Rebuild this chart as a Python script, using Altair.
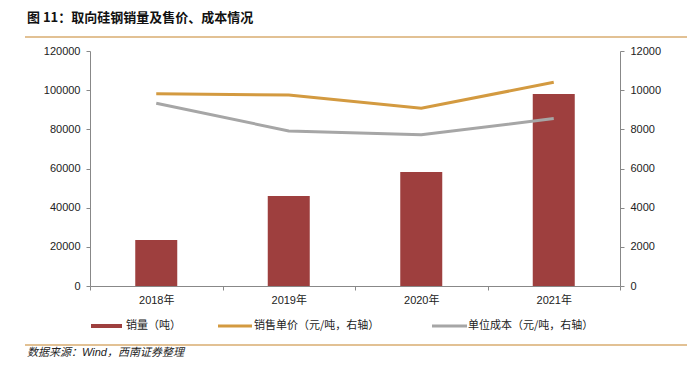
import altair as alt
import pandas as pd

years = ["2018年", "2019年", "2020年", "2021年"]
volume = [23500, 46000, 58200, 98000]
price = [9820, 9750, 9080, 10400]
cost = [9330, 7920, 7720, 8550]

title_text = "图 11：取向硅钢销量及售价、成本情况"
source_text = "数据来源：Wind，西南证券整理"
legend_labels = ["销量（吨）", "销售单价（元/吨，右轴）", "单位成本（元/吨，右轴）"]

df = pd.DataFrame({"year": years, "volume": volume, "price": price, "cost": cost})

BAR = "#9E3F3E"
GOLD = "#D39A40"
GREY = "#A6A6A6"
LINE = "#D9AD70"
FONT = "Liberation Sans, Noto Sans CJK SC"
CJK = "Noto Sans CJK SC"

x = alt.X("year:N", sort=years, title=None,
          scale=alt.Scale(paddingInner=0, paddingOuter=0),
          axis=alt.Axis(tickBand="extent", labelAngle=0, labelPadding=4))

bars = alt.Chart(df).mark_bar(width=42, color=BAR).encode(
    x=x,
    y=alt.Y("volume:Q", title=None,
            scale=alt.Scale(domain=[0, 120000], nice=False),
            axis=alt.Axis(values=list(range(0, 120001, 20000)), format="d", orient="left"))
)

base_line = alt.Chart(df).transform_fold(["price", "cost"], as_=["k", "v"])
lines = base_line.mark_line(strokeWidth=3).encode(
    x=x,
    y=alt.Y("v:Q", title=None,
            scale=alt.Scale(domain=[0, 12000], nice=False),
            axis=alt.Axis(values=list(range(0, 12001, 2000)), format="d", orient="right")),
    color=alt.Color("k:N", scale=alt.Scale(domain=["price", "cost"], range=[GOLD, GREY]), legend=None),
)

one = pd.DataFrame({"a": [0]})

# view origin at page (90, 51)
title = alt.Chart(pd.DataFrame({"t": [title_text]})).mark_text(
    align="left", baseline="middle", fontSize=13, fontWeight="bold", font=CJK, color="#111"
).encode(x=alt.value(-63), y=alt.value(-33), text="t:N")

top_rule = alt.Chart(one).mark_rule(color=LINE, strokeWidth=1.5).encode(
    x=alt.value(-65), x2=alt.value(600), y=alt.value(-14))
bot_rule = alt.Chart(one).mark_rule(color=LINE, strokeWidth=1.5).encode(
    x=alt.value(-65), x2=alt.value(602), y=alt.value(294))

source = alt.Chart(pd.DataFrame({"t": [source_text]})).mark_text(
    align="left", baseline="middle", fontSize=11, fontStyle="italic", font=FONT, color="#222"
).encode(x=alt.value(-63), y=alt.value(302), text="t:N")

leg_y = 275
sw1 = alt.Chart(one).mark_rule(color=BAR, strokeWidth=4).encode(
    x=alt.value(1), x2=alt.value(32), y=alt.value(leg_y))
sw2 = alt.Chart(one).mark_rule(color=GOLD, strokeWidth=3).encode(
    x=alt.value(128), x2=alt.value(162), y=alt.value(leg_y))
sw3 = alt.Chart(one).mark_rule(color=GREY, strokeWidth=3).encode(
    x=alt.value(342), x2=alt.value(377), y=alt.value(leg_y))

def ltext(s, xv):
    return alt.Chart(pd.DataFrame({"t": [s]})).mark_text(
        align="left", baseline="middle", fontSize=11, font=CJK, color="#222"
    ).encode(x=alt.value(xv), y=alt.value(leg_y), text="t:N")

lt1 = ltext(legend_labels[0], 36)
lt2 = ltext(legend_labels[1], 164)
lt3 = ltext(legend_labels[2], 378)

chart = alt.layer(
    bars, lines, title, top_rule, bot_rule, source, sw1, sw2, sw3, lt1, lt2, lt3
).resolve_scale(y="independent").properties(
    width=530, height=235,
    padding={"left": 82, "top": 43, "right": 67, "bottom": 75},
    autosize=alt.AutoSizeParams(type="none"),
).configure_view(stroke=None).configure_axis(
    labelFont=FONT, labelFontSize=11, labelColor="#222",
    domainColor="#888", tickColor="#888", tickSize=4, labelPadding=6, grid=False
)

chart.save("out.html", embed_options={"renderer": "svg", "actions": False})
